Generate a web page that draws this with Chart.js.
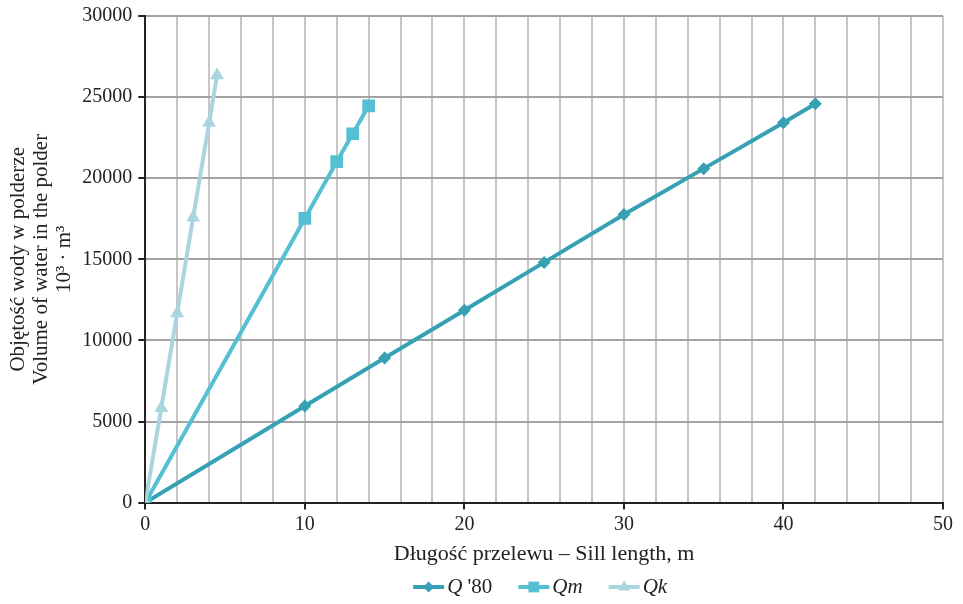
<!DOCTYPE html>
<html>
<head>
<meta charset="utf-8">
<script src="https://cdn.jsdelivr.net/npm/chart.js@4/dist/chart.umd.min.js"></script>
<style>
  html, body { margin: 0; padding: 0; background: #fff; }
  #wrap { width: 963px; height: 604px; }
</style>
</head>
<body>
<div id="wrap"><canvas id="chart"></canvas></div>
<script>
// sill length (m) and water volume (10^3 m^3)
const q80X = [0, 10, 15, 20, 25, 30, 35, 40, 42];
const q80Y = [0, 5960, 8910, 11860, 14810, 17760, 20590, 23420, 24590];
const qmX = [0, 10, 12, 13, 14];
const qmY = [0, 17520, 21020, 22740, 24460];
const qkX = [0, 1, 2, 3, 4, 4.5];
const qkY = [0, 5840, 11680, 17580, 23420, 26350];

const seriesNames = ['Q \'80', 'Qm', 'Qk'];
// legend text pieces: [text, italic?]
const legendParts = [[['Q', true], [' \'80', false]], [['Qm', true]], [['Qk', true]]];
const seriesColors = ['#36a0b4', '#55bfd3', '#a9d6de'];
const seriesMarkers = ['rectRot', 'rect', 'triangle'];
const markerSizes = [6.5, 9, 8];

const toPoints = (xs, ys) => xs.map((x, i) => ({ x: x, y: ys[i] }));
const allX = [q80X, qmX, qkX];
const allY = [q80Y, qmY, qkY];

// legend under the plot, centred on the chart area
const plotLegend = {
    id: 'plotLegend',
    afterDraw(chart) {
        const ctx = chart.ctx;
        const area = chart.chartArea;
        const y = 587, lineW = 31, gap = 3, spacing = 26;
        const fontFor = it => (it ? 'italic ' : '') + '21px "Liberation Serif"';
        ctx.save();
        const widths = legendParts.map(parts => parts.reduce((w, p) => {
            ctx.font = fontFor(p[1]);
            return w + ctx.measureText(p[0]).width;
        }, 0));
        let total = 0;
        widths.forEach((w, i) => { total += lineW + gap + w + (i ? spacing : 0); });
        let x = (area.left + area.right) / 2 - total / 2 - 4;
        legendParts.forEach((parts, i) => {
            const c = seriesColors[i];
            ctx.strokeStyle = c; ctx.fillStyle = c; ctx.lineWidth = 4;
            ctx.beginPath(); ctx.moveTo(x, y); ctx.lineTo(x + lineW, y); ctx.stroke();
            Chart.helpers.drawPoint(ctx, {
                pointStyle: seriesMarkers[i], radius: markerSizes[i] * 0.85, rotation: 0, borderWidth: 0
            }, x + lineW / 2, y);
            x += lineW + gap;
            ctx.fillStyle = '#222';
            ctx.textBaseline = 'middle';
            parts.forEach(p => {
                ctx.font = fontFor(p[1]);
                ctx.fillText(p[0], x, y);
                x += ctx.measureText(p[0]).width;
            });
            x += spacing;
        });
        ctx.restore();
    }
};

const chart = new Chart(document.getElementById('chart').getContext('2d'), {
    type: 'scatter',
    data: {
        datasets: seriesNames.map((name, i) => ({
            label: name,
            data: toPoints(allX[i], allY[i]),
            showLine: true,
            borderColor: seriesColors[i],
            backgroundColor: seriesColors[i],
            borderWidth: 4,
            pointStyle: seriesMarkers[i],
            pointRadius: markerSizes[i],
            pointBorderWidth: 0,
            pointHoverRadius: markerSizes[i],
            tension: 0
        })).reverse()
    },
    plugins: [plotLegend],
    options: {
        responsive: true,
        maintainAspectRatio: false,
        animation: false,
        layout: { padding: { top: -2, right: 20, bottom: 33, left: 7 } },
        plugins: {
            tooltip: { enabled: false },
            legend: { display: false }
        },
        scales: {
            x: {
                type: 'linear',
                min: 0,
                max: 50,
                ticks: {
                    stepSize: 2,
                    autoSkip: false,
                    maxRotation: 0,
                    color: '#222',
                    padding: 3,
                    font: { family: 'Liberation Serif', size: 20 },
                    callback: v => (v % 10 === 0 ? v : '')
                },
                grid: {
                    color: '#c6c6c6',
                    lineWidth: 2,
                    tickLength: 7,
                    tickColor: ctx => (ctx.tick && ctx.tick.value % 10 === 0 ? '#222' : 'rgba(0,0,0,0)')
                },
                border: { color: '#222', width: 2 },
                title: {
                    display: true,
                    text: 'Długość przelewu – Sill length, m',
                    color: '#222',
                    font: { family: 'Liberation Serif', size: 22 },
                    padding: { top: 1, bottom: 4 }
                }
            },
            y: {
                min: 0,
                max: 30000,
                ticks: {
                    stepSize: 5000,
                    color: '#222',
                    font: { family: 'Liberation Serif', size: 20, lineHeight: 1 },
                    padding: 6,
                    callback: v => String(v)
                },
                grid: {
                    color: '#a3a3a3',
                    lineWidth: 2,
                    tickLength: 7,
                    tickColor: '#222'
                },
                border: { color: '#222', width: 2 },
                title: {
                    display: true,
                    text: ['Objętość wody w polderze', 'Volume of water in the polder', '10³ · m³'],
                    color: '#222',
                    font: { family: 'Liberation Serif', size: 21, lineHeight: 1.1 },
                    padding: { top: 0, bottom: 0 }
                }
            }
        }
    }
});
</script>
</body>
</html>
